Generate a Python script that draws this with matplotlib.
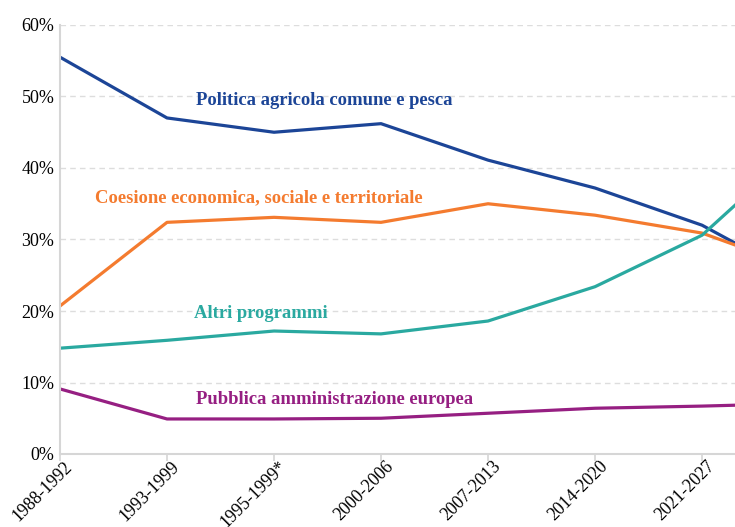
import matplotlib
matplotlib.use('Agg')
import matplotlib.pyplot as plt
import numpy as np

# periods (the last point is cut off at the right edge)
periods = ['1988-1992', '1993-1999', '1995-1999*', '2000-2006',
           '2007-2013', '2014-2020', '2021-2027']

# shares of the EU budget [%]
pac = [55.5, 47.0, 45.0, 46.2, 41.1, 37.2, 32.0, 23.9]
coesione = [20.7, 32.4, 33.1, 32.4, 35.0, 33.4, 30.9, 25.5]
altri = [14.8, 15.9, 17.2, 16.8, 18.6, 23.4, 30.6, 44.2]
pubblica = [9.1, 4.9, 4.9, 5.0, 5.7, 6.4, 6.7, 7.1]

c_blue = '#1c4597'
c_orange = '#f47b2f'
c_teal = '#2aa9a0'
c_purple = '#961f82'

plt.rcParams['font.family'] = ['Liberation Serif', 'DejaVu Serif']

fig = plt.figure(figsize=(7.35, 5.27), dpi=100)
ax = fig.add_axes([60/735, 73/527, 675/735, 429/527])

x = np.arange(len(pac))
for y, c in [(pac, c_blue), (coesione, c_orange), (altri, c_teal), (pubblica, c_purple)]:
    ax.plot(x, y, color=c, lw=2.3, solid_joinstyle='round')

ax.set_xlim(0, 6.308)
ax.set_ylim(0, 60)
ax.set_yticks(range(0, 61, 10))
ax.set_yticklabels([f'{v}%' for v in range(0, 61, 10)], fontsize=13)
ax.set_xticks(range(len(periods)))
ax.set_xticklabels([])
# rotated period labels, placed a little right of each tick
for i, p in enumerate(periods):
    ax.annotate(p, (i, 0), xytext=(2.9, -2.9), textcoords='offset points',
                rotation=45, ha='right', va='top', rotation_mode='anchor',
                fontsize=12.8, annotation_clip=False)

for v in range(10, 61, 10):
    ax.axhline(v, color='#dddddd', lw=1, ls=(0, (4, 3)), zorder=0)

for s in ['top', 'right']:
    ax.spines[s].set_visible(False)
for s in ['left', 'bottom']:
    ax.spines[s].set_color('#d6d6d6')
    ax.spines[s].set_linewidth(1.5)
ax.tick_params(axis='x', color='#d6d6d6', length=5, width=1.2)
ax.tick_params(axis='y', length=0, pad=4)

# series labels
tk = dict(fontsize=13.4, fontweight='bold', va='center', ha='left')
ax.text(1.27, 49.4, 'Politica agricola comune e pesca', color=c_blue, **tk)
ax.text(0.33, 35.8, 'Coesione economica, sociale e territoriale', color=c_orange, **tk)
ax.text(1.25, 19.6, 'Altri programmi', color=c_teal, **tk)
ax.text(1.27, 7.6, 'Pubblica amministrazione europea', color=c_purple, **tk)

fig.savefig('out.png', dpi=100)
